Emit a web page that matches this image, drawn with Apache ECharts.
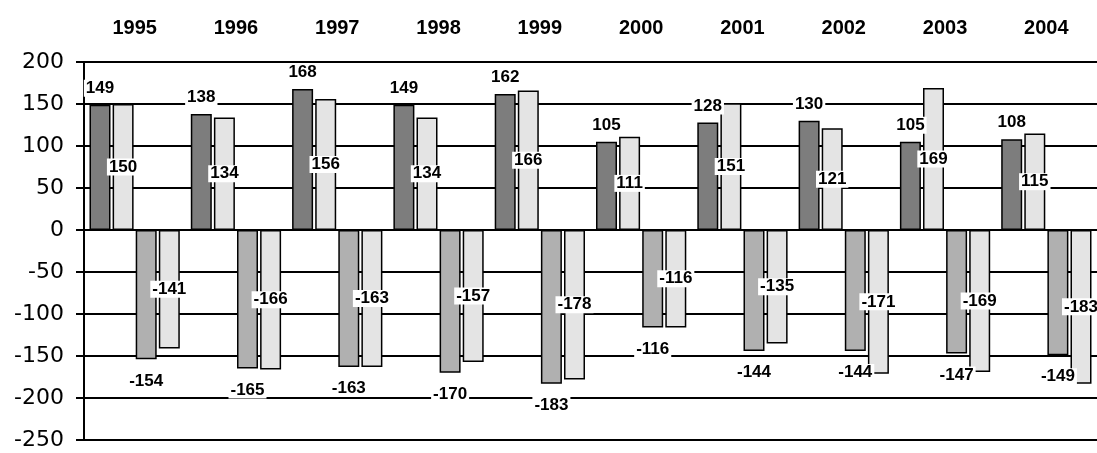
<!DOCTYPE html>
<html>
<head>
<meta charset="utf-8">
<script src="https://cdn.jsdelivr.net/npm/echarts@6/dist/echarts.min.js"></script>
<style>
  html, body { margin: 0; padding: 0; background: #fff; }
  #chart { width: 1097px; height: 453px; }
</style>
</head>
<body>
<div id="chart"></div>
<script>
// data
const years = ["1995", "1996", "1997", "1998", "1999", "2000", "2001", "2002", "2003", "2004"];
const posDark = [149, 138, 168, 149, 162, 105, 128, 130, 105, 108];
const posLight = [150, 134, 156, 134, 166, 111, 151, 121, 169, 115];
const negDark = [-154, -165, -163, -170, -183, -116, -144, -144, -147, -149];
const negLight = [-141, -166, -163, -157, -178, -116, -135, -171, -169, -183];

const myChart = echarts.init(document.getElementById("chart"));

const labelStyle = {
  show: true,
  fontFamily: "Liberation Sans",
  fontWeight: "bold",
  fontSize: 17,
  color: "#000",
  backgroundColor: "#fff",
  padding: [0, 2],
};

const barSeries = (name, data, color, labelPos, dist) => ({
  name: name,
  type: "bar",
  data: data,
  barWidth: 21,
  barGap: "10%",
  itemStyle: {
    color: color,
    borderColor: "#000",
    borderWidth: 1.5,
  },
  label: Object.assign({}, labelStyle, {
    position: labelPos,
    distance: dist,
  }),
});

const option = {
  animation: false,
  backgroundColor: "#fff",
  grid: {
    left: 84,
    right: -2,
    top: 62,
    bottom: 13,
  },
  xAxis: {
    type: "category",
    position: "top",
    data: years,
    axisLine: { show: false },
    axisTick: { show: false },
    axisLabel: {
      fontFamily: "Liberation Sans",
      fontWeight: "bold",
      fontSize: 20,
      color: "#000",
      margin: 24,
    },
  },
  yAxis: {
    type: "value",
    min: -250,
    max: 200,
    interval: 50,
    axisLine: { show: true, lineStyle: { color: "#000", width: 2 } },
    axisTick: { show: true, length: 8, lineStyle: { color: "#000", width: 2 } },
    axisLabel: {
      fontFamily: "DejaVu Sans",
      fontSize: 22,
      color: "#000",
      margin: 20,
    },
    splitLine: { show: true, lineStyle: { color: "#000", width: 2 } },
  },
  series: [
    barSeries("posDark", posDark, "#7d7d7d", "top", 8),
    barSeries("posLight", posLight, "#e4e4e4", "inside", 0),
    barSeries("negDark", negDark, "#b0b0b0", "bottom", 13),
    barSeries("negLight", negLight, "#e4e4e4", "inside", 0),
  ],
};

myChart.setOption(option);
</script>
</body>
</html>
